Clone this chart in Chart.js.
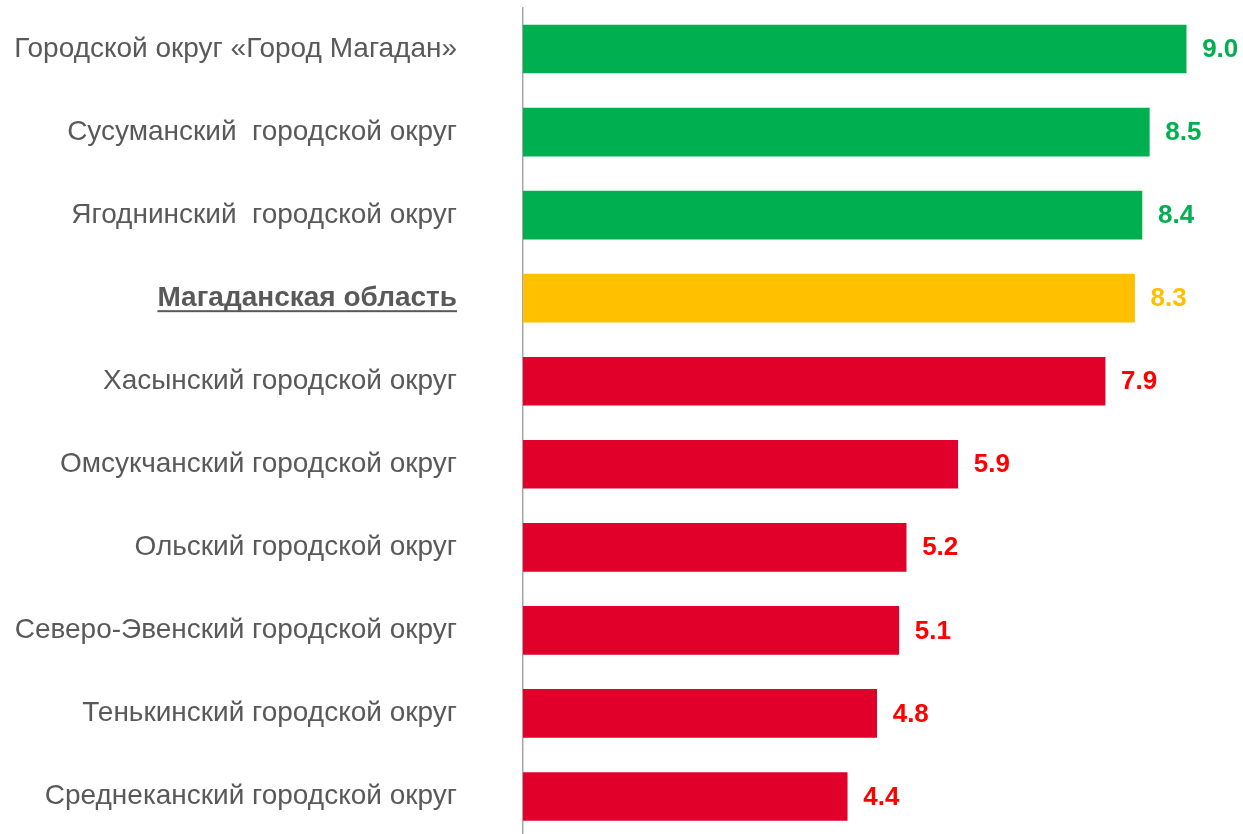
<!DOCTYPE html>
<html>
<head>
<meta charset="utf-8">
<script src="https://cdn.jsdelivr.net/npm/chart.js@4.4.1/dist/chart.umd.min.js"></script>
<style>
  html, body { margin: 0; padding: 0; background: #ffffff; overflow: hidden; }
  canvas { display: block; }
</style>
</head>
<body>
<canvas id="c" width="1243" height="838" style="width:1243px;height:838px"></canvas>
<script>
const categories = [
  'Городской округ «Город Магадан»',
  'Сусуманский  городской округ',
  'Ягоднинский  городской округ',
  'Магаданская область',
  'Хасынский городской округ',
  'Омсукчанский городской округ',
  'Ольский городской округ',
  'Северо-Эвенский городской округ',
  'Тенькинский городской округ',
  'Среднеканский городской округ'
];
const values = [9.0, 8.5, 8.4, 8.3, 7.9, 5.9, 5.2, 5.1, 4.8, 4.4];
const regionLabel = 'Магаданская область';

const FONT = "Arial, 'Liberation Sans', Helvetica, sans-serif";
const GREEN = '#00B050', YELLOW = '#FFC000', RED_BAR = '#E0002A', RED_TXT = '#FF0000';
const regionIdx = categories.indexOf(regionLabel);
const regionVal = values[regionIdx];
const barColors = values.map((v, i) => i === regionIdx ? YELLOW : (v > regionVal ? GREEN : RED_BAR));
const txtColors = values.map((v, i) => i === regionIdx ? YELLOW : (v > regionVal ? GREEN : RED_TXT));

const valueLabels = {
  id: 'valueLabels',
  afterDatasetsDraw(chart) {
    const ctx = chart.ctx;
    const meta = chart.getDatasetMeta(0);
    ctx.save();
    ctx.font = 'bold 26px ' + FONT;
    ctx.textAlign = 'left';
    ctx.textBaseline = 'middle';
    meta.data.forEach((bar, i) => {
      ctx.fillStyle = txtColors[i];
      ctx.fillText(values[i].toFixed(1), bar.x + 16, bar.y + 1);
    });
    ctx.restore();
  }
};

const underline = {
  id: 'underline',
  afterDraw(chart) {
    const ys = chart.scales.y;
    const ctx = chart.ctx;
    ctx.save();
    ctx.font = 'bold 28px ' + FONT;
    const w = ctx.measureText(regionLabel).width;
    const xr = ys.right - 66;
    const y = ys.getPixelForValue(regionIdx) + 12;
    ctx.fillStyle = '#595959';
    ctx.fillRect(xr - w, y, w, 2);
    ctx.restore();
  }
};

new Chart(document.getElementById('c'), {
  type: 'bar',
  data: {
    labels: categories,
    datasets: [{
      data: values,
      backgroundColor: barColors,
      borderWidth: 0,
      barThickness: 48
    }]
  },
  options: {
    indexAxis: 'y',
    responsive: false,
    animation: false,
    devicePixelRatio: 1,
    layout: { padding: { left: 0, right: 20, top: 7.5, bottom: 0 } },
    plugins: { legend: { display: false }, tooltip: { enabled: false } },
    scales: {
      x: {
        display: false,
        min: 0,
        max: 9.5
      },
      y: {
        afterFit(scale) {
          scale.width = 523;
          scale.paddingTop = 0;
          scale.paddingBottom = 0;
        },
        grid: { display: false, drawTicks: false, tickLength: 0 },
        border: { display: true, color: '#A6A6A6', width: 1.5 },
        ticks: {
          padding: 66,
          color: '#595959',
          font: (c) => ({ family: FONT, size: 28, weight: c.index === regionIdx ? 'bold' : 'normal' })
        }
      }
    }
  },
  plugins: [valueLabels, underline]
});
</script>
</body>
</html>
